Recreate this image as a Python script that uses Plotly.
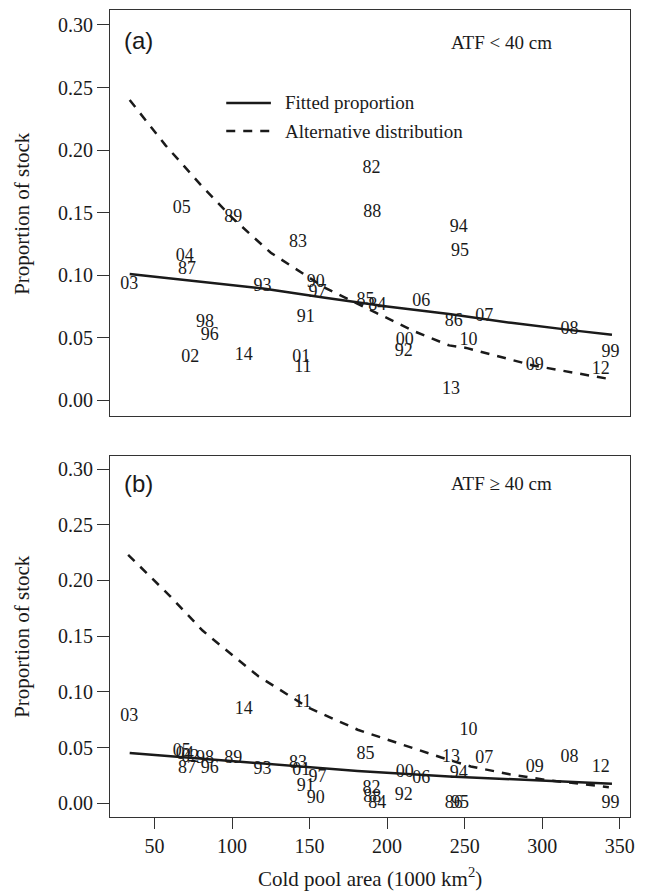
import plotly.graph_objects as go

# ---------------- data ----------------
years = ["82","83","84","85","86","87","88","89","90","91","92","93","94","95","96","97",
         "98","99","00","01","02","03","04","05","06","07","08","09","10","11","12","13","14"]
cold_pool = [190, 142.5, 193.7, 186, 243, 70.9, 190.5, 100.8, 154, 147.5, 210.8, 119.7, 246.2, 247,
             85.7, 155.1, 82.5, 344, 211.4, 144.6, 73, 33.8, 69.5, 67.5, 222, 262.7, 317.7, 295.2,
             252.5, 145.7, 337.8, 241.2, 107.6]
prop_small = [0.185, 0.126, 0.076, 0.080, 0.063, 0.105, 0.150, 0.146, 0.094, 0.066, 0.039, 0.091,
              0.138, 0.119, 0.052, 0.086, 0.062, 0.038, 0.048, 0.034, 0.034, 0.093, 0.115, 0.153,
              0.079, 0.067, 0.057, 0.028, 0.048, 0.026, 0.025, 0.009, 0.036]
prop_large = [0.013, 0.036, 0.000, 0.044, 0.000, 0.031, 0.005, 0.040, 0.004, 0.015, 0.007, 0.030,
              0.027, 0.000, 0.031, 0.023, 0.040, 0.000, 0.028, 0.029, 0.041, 0.078, 0.044, 0.046,
              0.022, 0.040, 0.041, 0.032, 0.065, 0.090, 0.032, 0.041, 0.084]

# curves
fit_a_x = [34, 80, 120, 160, 200, 240, 280, 320, 345]
fit_a_y = [0.101, 0.095, 0.0895, 0.082, 0.075, 0.069, 0.062, 0.056, 0.0525]
alt_a_x = [34, 57, 80, 100, 125, 160, 193, 218, 240, 251, 294, 338, 344]
alt_a_y = [0.240, 0.204, 0.172, 0.146, 0.118, 0.090, 0.070, 0.055, 0.044, 0.042, 0.028, 0.018, 0.017]
fit_b_x = [34, 80, 121, 181, 240, 300, 345]
fit_b_y = [0.045, 0.040, 0.0355, 0.029, 0.024, 0.020, 0.0175]
alt_b_x = [33, 60, 81, 87, 117, 149, 181, 213, 235, 254, 279, 302, 328, 343]
alt_b_y = [0.223, 0.186, 0.155, 0.148, 0.114, 0.086, 0.066, 0.051, 0.041, 0.033, 0.026, 0.021, 0.0165, 0.0144]

y_ticks = [0, 0.05, 0.10, 0.15, 0.20, 0.25, 0.30]
y_tick_text = ["0.00", "0.05", "0.10", "0.15", "0.20", "0.25", "0.30"]
x_ticks = [50, 100, 150, 200, 250, 300, 350]

# ---------------- figure ----------------
W, H = 648, 893
SERIF = "Liberation Serif, Times New Roman, serif"
INK = "#1a1a1a"

def px(x):
    return x / W

def py(y):
    return 1 - y / H

fig = go.Figure()

def add_panel(xa, ya, props, fx, fy, ax, ay):
    fig.add_trace(go.Scatter(x=fx, y=fy, mode="lines", xaxis=xa, yaxis=ya,
                             line=dict(color=INK, width=2.5), hoverinfo="skip"))
    fig.add_trace(go.Scatter(x=ax, y=ay, mode="lines", xaxis=xa, yaxis=ya,
                             line=dict(color=INK, width=2.5, dash="9px,8px"), hoverinfo="skip"))
    fig.add_trace(go.Scatter(x=cold_pool, y=props, mode="text", text=years, xaxis=xa, yaxis=ya,
                             textposition="middle center",
                             textfont=dict(family=SERIF, size=18, color=INK)))

add_panel("x", "y", prop_small, fit_a_x, fit_a_y, alt_a_x, alt_a_y)
add_panel("x2", "y2", prop_large, fit_b_x, fit_b_y, alt_b_x, alt_b_y)

xdom = [px(111), px(635)]
xr = [21.4, 356.7]
yr = [-0.012, 0.312]
axis_common = dict(showline=True, mirror=True, linecolor="#333", linewidth=1.4,
                   showgrid=False, zeroline=False)
tickfont = dict(family=SERIF, size=20, color=INK)

fig.update_layout(
    width=W, height=H, margin=dict(l=0, r=0, t=0, b=0),
    font=dict(family=SERIF, color=INK),
    paper_bgcolor="white", plot_bgcolor="white", showlegend=False,
    xaxis=dict(domain=xdom, range=xr, anchor="y", ticks="", showticklabels=False, **axis_common),
    yaxis=dict(domain=[py(415.5), py(9.9)], range=yr, anchor="x", tickvals=y_ticks,
               ticktext=y_tick_text, ticks="outside", ticklen=12, tickcolor="#333",
               tickwidth=1.4, tickfont=tickfont, **axis_common),
    xaxis2=dict(domain=xdom, range=xr, anchor="y2", tickvals=x_ticks, ticks="outside",
                ticklen=11, tickcolor="#333", tickwidth=1.4, tickfont=tickfont, **axis_common),
    yaxis2=dict(domain=[py(816.6), py(455.7)], range=yr, anchor="x2", tickvals=y_ticks,
                ticktext=y_tick_text, ticks="outside", ticklen=12, tickcolor="#333",
                tickwidth=1.4, tickfont=tickfont, **axis_common),
)

annotations = [
    dict(text="Proportion of stock", x=px(22), y=py(213), textangle=-90),
    dict(text="Proportion of stock", x=px(22), y=py(636), textangle=-90),
    dict(text="Cold pool area (1000 km<sup>2</sup>)", x=px(373), y=py(877)),
    dict(text="ATF &lt; 40 cm", x=px(505), y=py(42), size=19),
    dict(text="ATF ≥ 40 cm", x=px(505), y=py(483), size=19),
    dict(text="(a)", x=px(140), y=py(40), size=24, family="Liberation Sans, Arial, sans-serif"),
    dict(text="(b)", x=px(140), y=py(483), size=24, family="Liberation Sans, Arial, sans-serif"),
    dict(text="Fitted proportion", x=px(285), y=py(103), size=19, xanchor="left"),
    dict(text="Alternative distribution", x=px(285), y=py(131), size=19, xanchor="left"),
]
for a in annotations:
    fig.add_annotation(
        text=a["text"], x=a["x"], y=a["y"], xref="paper", yref="paper", showarrow=False,
        textangle=a.get("textangle", 0), xanchor=a.get("xanchor", "center"), yanchor="middle",
        font=dict(family=a.get("family", SERIF), size=a.get("size", 21), color=INK))

# legend sample lines
fig.add_shape(type="line", xref="paper", yref="paper", x0=px(228), x1=px(273), y0=py(103), y1=py(103),
              line=dict(color=INK, width=2.5))
fig.add_shape(type="line", xref="paper", yref="paper", x0=px(228), x1=px(273), y0=py(131), y1=py(131),
              line=dict(color=INK, width=2.5, dash="9px,8px"))

fig.write_html("out.html")
